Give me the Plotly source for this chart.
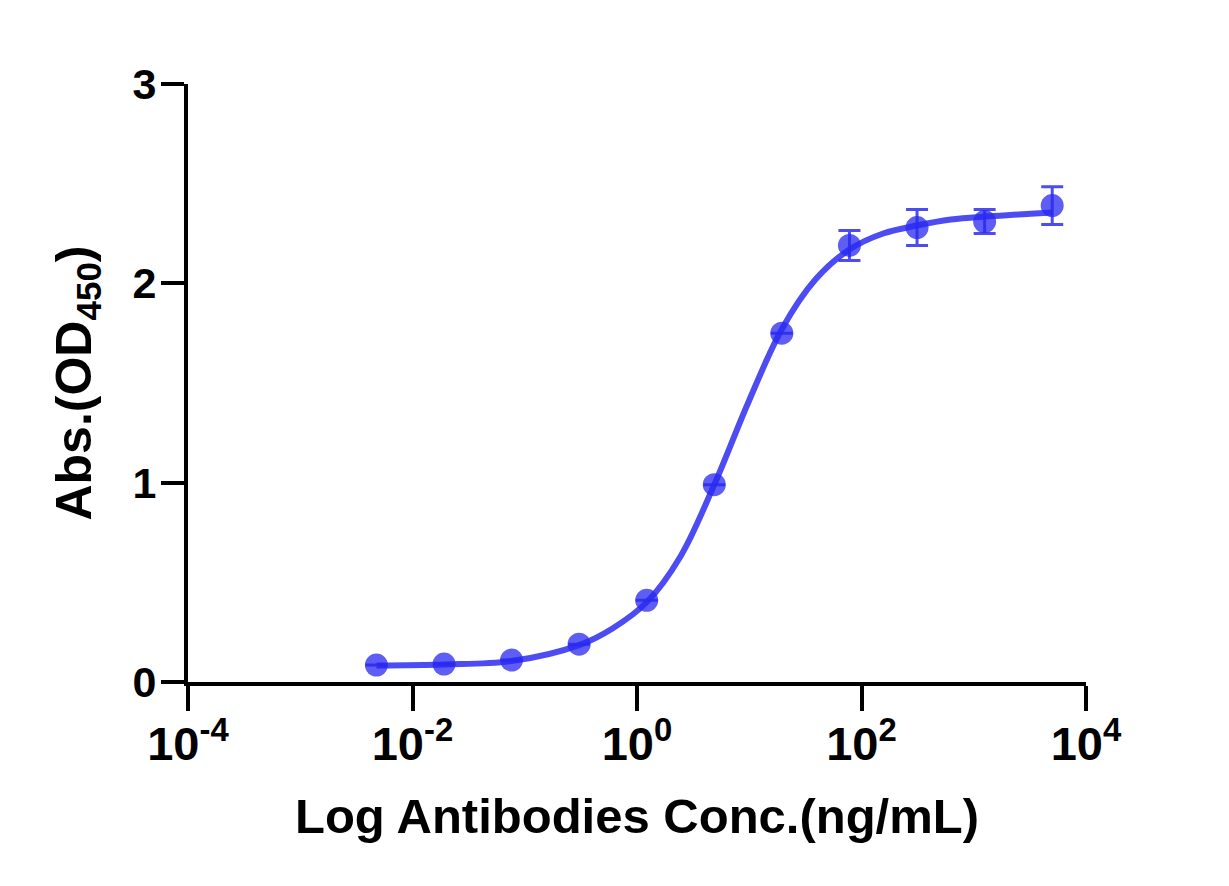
import plotly.graph_objects as go

# measured points (4-fold dilutions), mean and SD
conc = [0.00477, 0.0191, 0.0763, 0.305, 1.22, 4.88, 19.5, 78.1, 312.5, 1250, 5000]
od450 = [0.085, 0.09, 0.11, 0.19, 0.41, 0.99, 1.75, 2.19, 2.28, 2.31, 2.39]
sd = [None, None, None, None, None, None, None, 0.075, 0.09, 0.06, 0.095]

# fitted curve
fit_conc = [0.00477, 0.0191, 0.0763, 0.305, 0.61, 1.22, 2.44, 4.88, 9.76, 19.5,
            39, 78.1, 156, 312.5, 625, 1250, 2500, 5000]
fit_od = [0.083, 0.088, 0.105, 0.185, 0.27, 0.40, 0.63, 0.99, 1.40, 1.77,
          2.02, 2.17, 2.25, 2.29, 2.32, 2.335, 2.345, 2.355]

x_tickvals = [1e-4, 1e-2, 1, 1e2, 1e4]
x_ticktext = ["10<sup>-4</sup>", "10<sup>-2</sup>", "10<sup>0</sup>", "10<sup>2</sup>", "10<sup>4</sup>"]
y_tickvals = [0, 1, 2, 3]

blue = "rgba(45,45,240,0.85)"
font = "Liberation Sans, Arial, sans-serif"

fig = go.Figure()
fig.add_trace(go.Scatter(x=fit_conc, y=fit_od, mode="lines",
                         line=dict(color=blue, width=6, shape="spline", smoothing=1.0),
                         hoverinfo="skip"))
fig.add_trace(go.Scatter(x=conc, y=od450, mode="markers",
                         marker=dict(size=23, color="rgba(40,40,240,0.75)", line=dict(width=0)),
                         error_y=dict(type="data", array=sd, color=blue, thickness=3, width=11)))

fig.update_layout(
    width=1229, height=886,
    margin=dict(l=180, r=151, t=76, b=212),
    plot_bgcolor="white", paper_bgcolor="white",
    showlegend=False,
    font=dict(family=font, color="black"),
)
fig.update_xaxes(
    type="log", range=[-4, 4],
    tickvals=x_tickvals, ticktext=x_ticktext,
    tickfont=dict(size=47, family=font, weight="bold"),
    ticks="outside", ticklen=25, tickwidth=4, tickcolor="black",
    showline=True, linewidth=4, linecolor="black",
    showgrid=False, zeroline=False,
    ticklabelstandoff=-7,
    title=dict(text="<b>Log Antibodies Conc.(ng/mL)</b>", font=dict(size=49, family=font), standoff=30),
)
fig.update_yaxes(
    range=[0, 3],
    tickvals=y_tickvals,
    tickfont=dict(size=43, family=font, weight="bold"),
    ticks="outside", ticklen=23, tickwidth=4, tickcolor="black",
    showline=True, linewidth=4, linecolor="black",
    showgrid=False, zeroline=False,
    ticklabelstandoff=-4,
    title=dict(text="<b>Abs.(OD<sub>450</sub>)</b>", font=dict(size=50, family=font), standoff=26),
)

fig.write_html("out.html")
